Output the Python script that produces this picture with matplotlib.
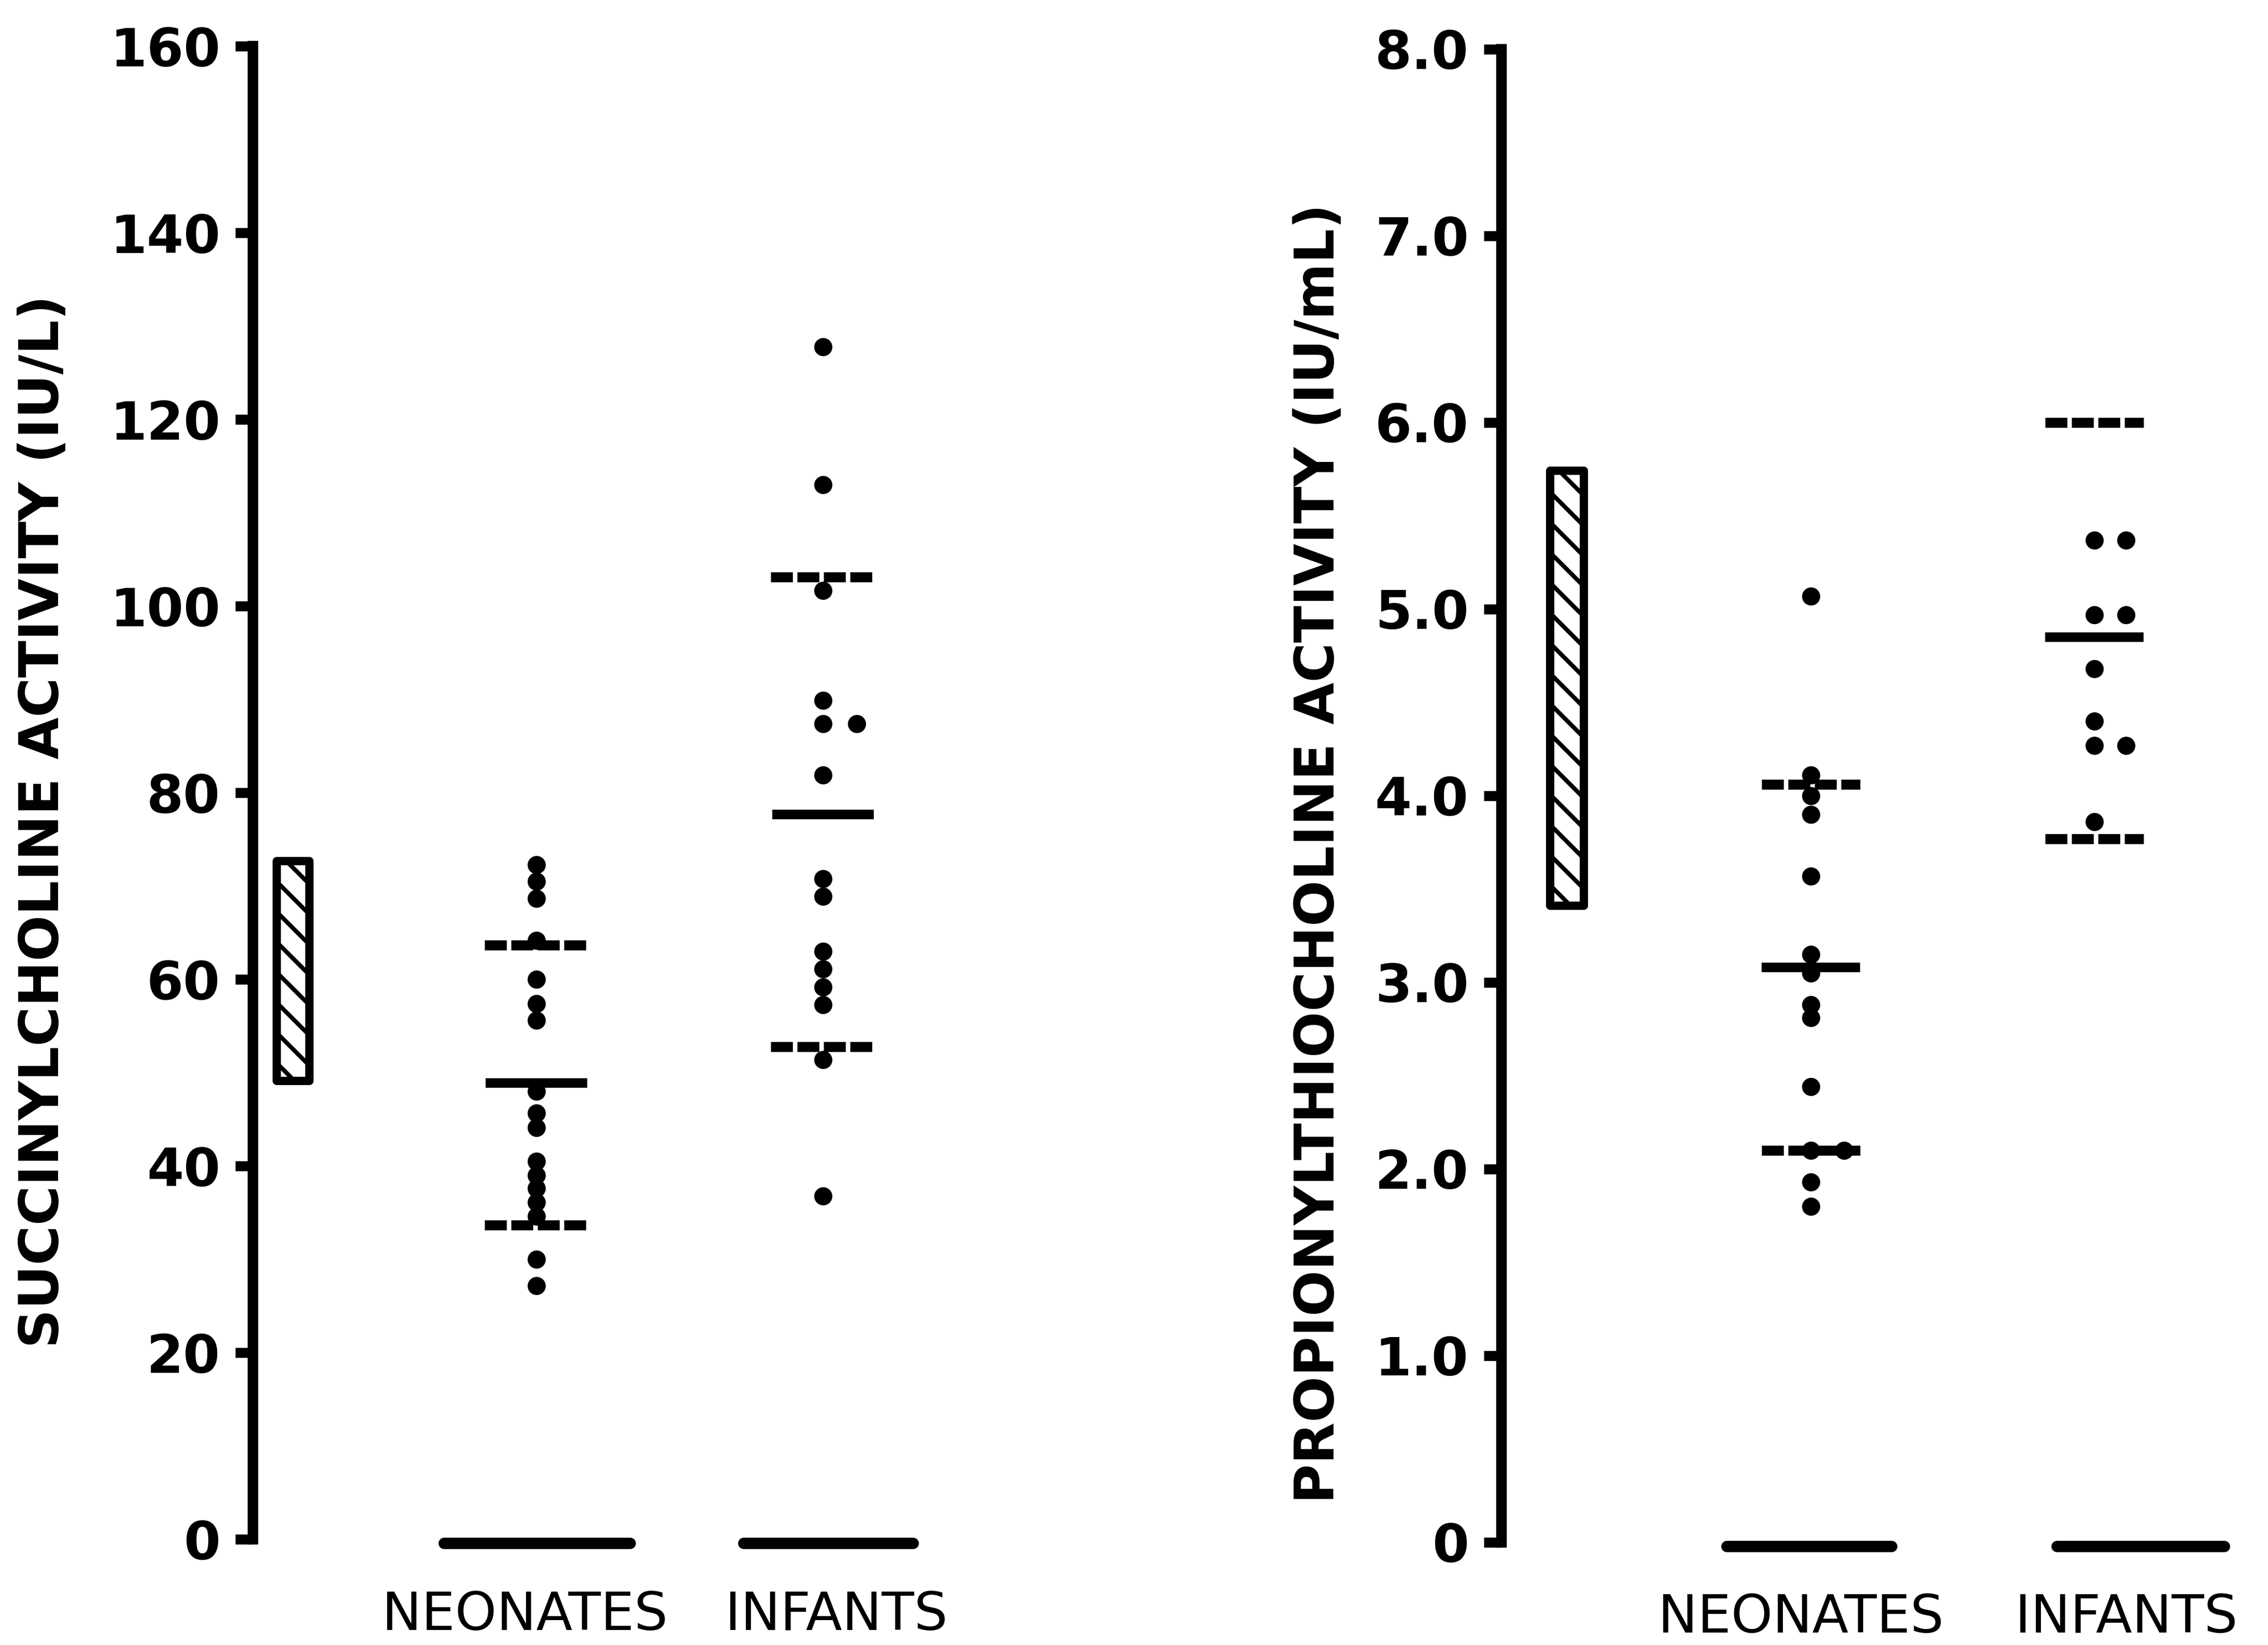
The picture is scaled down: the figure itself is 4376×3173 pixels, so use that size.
import matplotlib
matplotlib.use('Agg')
import matplotlib.pyplot as plt
import matplotlib.transforms as mtransforms

plt.rcParams['font.family'] = ['DejaVu Sans']
plt.rcParams['hatch.linewidth'] = 1.7
plt.rcParams['lines.scale_dashes'] = False

# ---------------- data ----------------
categories = ['NEONATES', 'INFANTS']

# Left panel: succinylcholine activity (IU/L)
succ_neonates = [72.3, 70.5, 68.7, 64.2, 60.0, 57.4, 55.6, 48.0, 45.7, 44.1,
                 40.5, 39.0, 37.6, 36.1, 34.6, 30.0, 27.2]
succ_infants = [127.8, 113.0, 101.7, 89.9, 87.4, 87.4, 81.9, 70.8, 68.9,
                63.0, 61.1, 59.2, 57.3, 51.4, 36.8]
succ_mean = [48.9, 77.7]
succ_sd_upper = [63.7, 103.1]
succ_sd_lower = [33.7, 52.8]
succ_normal_range = [49.1, 72.7]
succ_ticks = [0, 20, 40, 60, 80, 100, 120, 140, 160]
succ_ticklabels = ['0', '20', '40', '60', '80', '100', '120', '140', '160']
succ_ylabel = 'SUCCINYLCHOLINE ACTIVITY (IU/L)'

# Right panel: propionylthiocholine activity (IU/mL)
prop_neonates = [5.07, 4.11, 4.00, 3.90, 3.57, 3.15, 3.05, 2.88, 2.81, 2.44,
                 2.10, 2.10, 1.93, 1.80]
prop_infants = [5.37, 5.37, 4.97, 4.97, 4.68, 4.40, 4.27, 4.27, 3.86]
prop_mean = [3.08, 4.85]
prop_sd_upper = [4.06, 6.00]
prop_sd_lower = [2.10, 3.77]
prop_normal_range = [3.41, 5.74]
prop_ticks = [0, 1, 2, 3, 4, 5, 6, 7, 8]
prop_ticklabels = ['0', '1.0', '2.0', '3.0', '4.0', '5.0', '6.0', '7.0', '8.0']
prop_ylabel = 'PROPIONYLTHIOCHOLINE ACTIVITY (IU/mL)'

# ---------------- layout ----------------
DPI = 350
fig = plt.figure(figsize=(4376 / DPI, 3173 / DPI), dpi=DPI)

panels = [
    dict(rect=[0.11161, 0.0642, 0.3109, 0.9077], xlim=(0, 2.5), ylim=(0, 160),
         groups=[succ_neonates, succ_infants],
         dx=[[0] * len(succ_neonates),
             [0, 0, 0, 0, 0, 0.12, 0, 0, 0, 0, 0, 0, 0, 0, 0]],
         cols=[1.005, 2.02], mean=succ_mean, up=succ_sd_upper, lo=succ_sd_lower,
         rng=succ_normal_range, bar_x=0.1415, bar_w=0.116,
         base=[(1.007, 0.33), (2.04, 0.30)], label_pos=[0.964, 2.067],
         mean_hw=0.18, sd_hw=0.185,
         ticks=succ_ticks, ticklabels=succ_ticklabels, ylabel=succ_ylabel,
         ylabel_xy=(-0.297, 0.481)),
    dict(rect=[0.66199, 0.06245, 0.3278, 0.9077], xlim=(-0.07, 2.5), ylim=(0, 8),
         groups=[prop_neonates, prop_infants],
         dx=[[0] * 11 + [0.115, 0, 0],
             [0, 0.11, 0, 0.11, 0, 0, 0, 0.11, 0]],
         cols=[1.0, 1.98], mean=prop_mean, up=prop_sd_upper, lo=prop_sd_lower,
         rng=prop_normal_range, bar_x=0.1575, bar_w=0.117,
         base=[(0.995, 0.285), (2.14, 0.29)], label_pos=[0.965, 2.09],
         mean_hw=0.17, sd_hw=0.17,
         ticks=prop_ticks, ticklabels=prop_ticklabels, ylabel=prop_ylabel,
         ylabel_xy=(-0.2452, 0.4611)),
]

dash = (0, (8.7, 1.8))

for p in panels:
    ax = fig.add_axes(p['rect'])
    ax.set_xlim(*p['xlim'])
    ax.set_ylim(*p['ylim'])
    for side in ['top', 'right', 'bottom']:
        ax.spines[side].set_visible(False)
    ax.spines['left'].set_linewidth(4.2)
    ax.spines['left'].set_capstyle('projecting')

    ax.set_yticks(p['ticks'], p['ticklabels'], fontsize=21, fontweight='bold')
    ax.tick_params(axis='y', direction='out', length=7, width=4, pad=6)
    ax.set_xticks(p['label_pos'], categories, fontsize=21)
    ax.tick_params(axis='x', length=0, pad=20)

    ax.set_ylabel(p['ylabel'], fontsize=21.5, fontweight='bold')
    ax.yaxis.label.set(rotation_mode='default', va='center', ha='center')
    ax.yaxis.set_label_coords(*p['ylabel_xy'])

    # normal range hatched bar
    lo_r, hi_r = p['rng']
    ax.bar(p['bar_x'], hi_r - lo_r, bottom=lo_r, width=p['bar_w'],
           fill=False, hatch='\\\\', edgecolor='black', linewidth=3.3,
           joinstyle='round', zorder=2)

    # baseline segments for each group
    off = ax.transData + mtransforms.ScaledTranslation(0, -1.6 / 72, fig.dpi_scale_trans)
    for (c, hw) in p['base']:
        lc = ax.hlines(0, c - hw, c + hw, colors='black', linewidth=4.5,
                       transform=off, clip_on=False)
        lc.set_capstyle('round')

    for i, c in enumerate(p['cols']):
        # mean line
        ax.hlines(p['mean'][i], c - p['mean_hw'], c + p['mean_hw'],
                  colors='black', linewidth=3.8, zorder=3)
        # +/- SD dashed lines
        ax.hlines([p['up'][i], p['lo'][i]], c - p['sd_hw'], c + p['sd_hw'],
                  colors='black', linewidth=4.0, linestyles=[dash], zorder=3)
        xs = [c + d for d in p['dx'][i]]
        ax.plot(xs, p['groups'][i], 'o', color='black', markersize=7.2,
                markeredgewidth=0, zorder=4, clip_on=False)

fig.savefig('out.png', dpi=DPI, facecolor='white')
